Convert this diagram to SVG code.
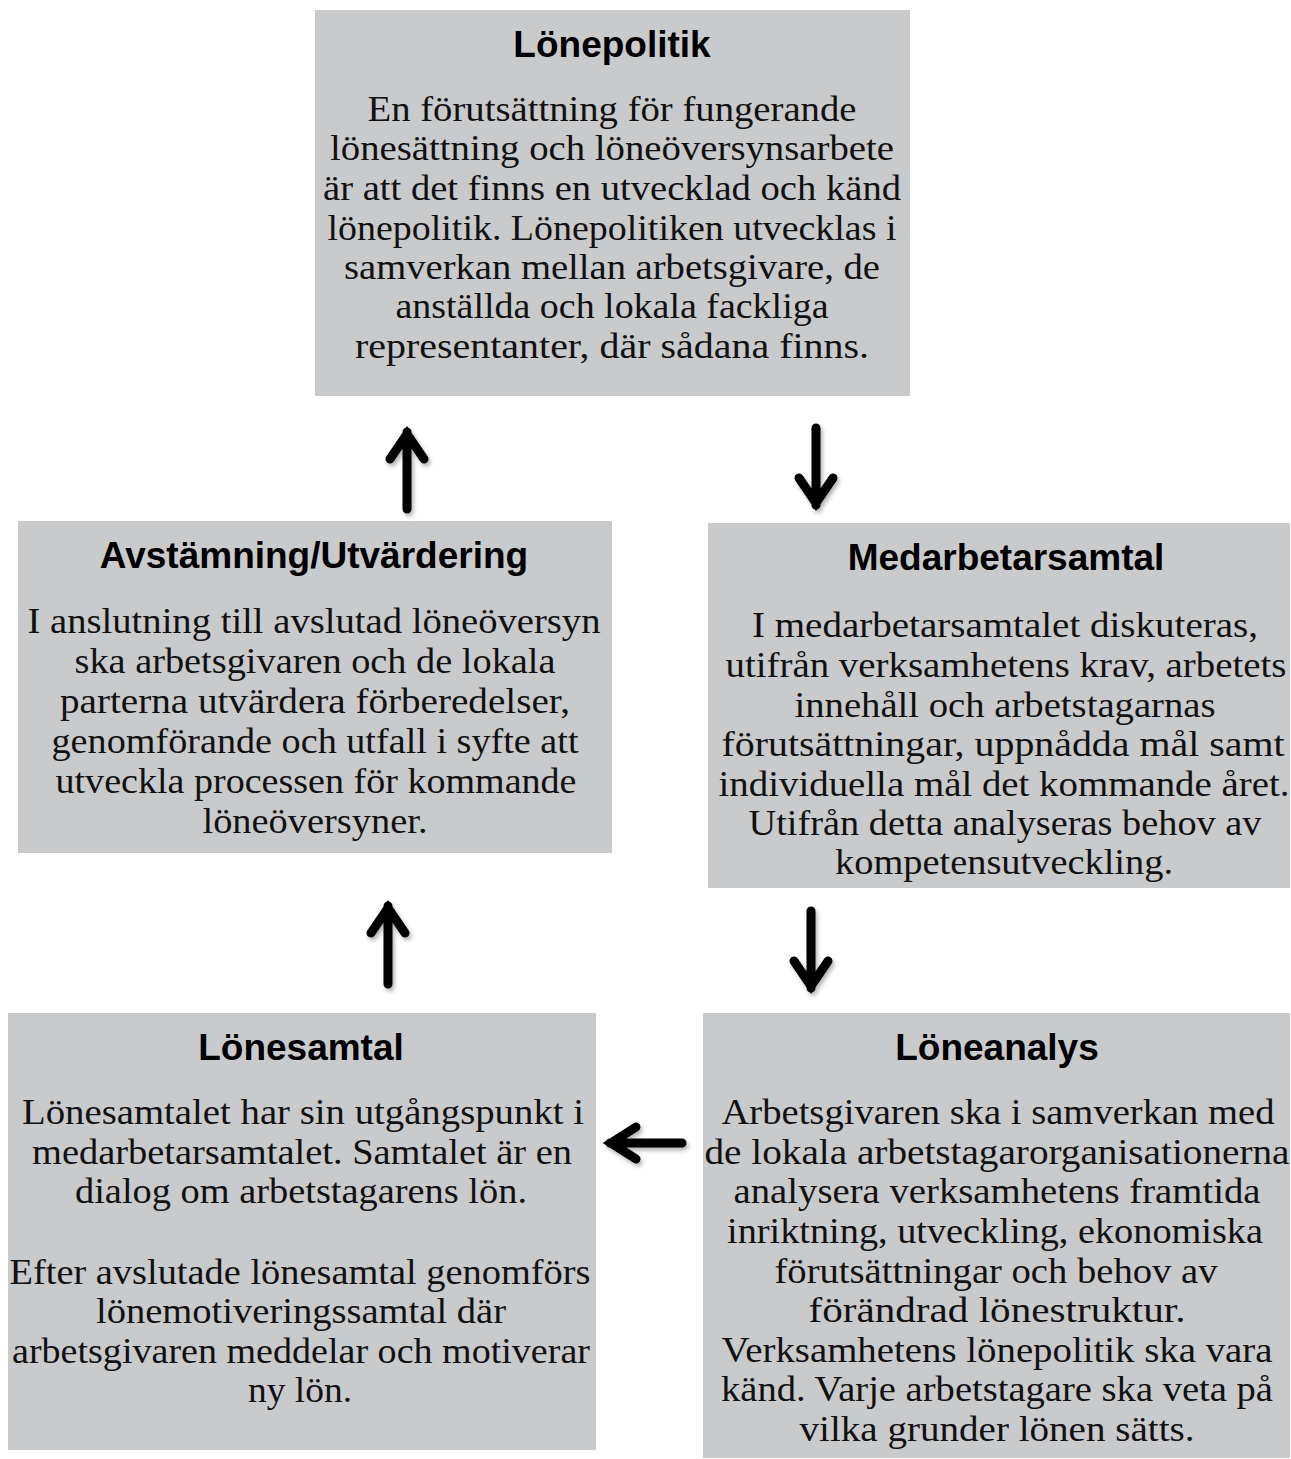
<svg xmlns="http://www.w3.org/2000/svg" width="1291" height="1459" viewBox="0 0 1291 1459">
<defs>
<style>
.box{fill:#c9cacc}
.t{font-family:"Liberation Sans",Arial,sans-serif;font-weight:bold;font-size:37px;fill:#000;text-anchor:middle}
.b{font-family:"Liberation Serif","Times New Roman",serif;font-size:35px;fill:#111;text-anchor:middle}
.arr{fill:none;stroke:#000;stroke-width:9;stroke-linecap:round;stroke-linejoin:miter;stroke-miterlimit:10}
</style>
<filter id="sh" x="-50%" y="-50%" width="200%" height="200%">
<feDropShadow dx="2" dy="3" stdDeviation="2" flood-color="#000" flood-opacity="0.3"/>
</filter>
</defs>
<rect width="1291" height="1459" fill="#fff"/>

<g id="lonepolitik">
<rect class="box" x="315" y="10" width="595" height="386"/>
<text class="t" x="612" y="57">Lönepolitik</text>
<text class="b" x="612" y="121" textLength="489" lengthAdjust="spacingAndGlyphs">En förutsättning för fungerande</text>
<text class="b" x="612" y="160" textLength="564" lengthAdjust="spacingAndGlyphs">lönesättning och löneöversynsarbete</text>
<text class="b" x="612" y="200" textLength="578" lengthAdjust="spacingAndGlyphs">är att det finns en utvecklad och känd</text>
<text class="b" x="612" y="240" textLength="569" lengthAdjust="spacingAndGlyphs">lönepolitik. Lönepolitiken utvecklas i</text>
<text class="b" x="612" y="279" textLength="536" lengthAdjust="spacingAndGlyphs">samverkan mellan arbetsgivare, de</text>
<text class="b" x="612" y="318" textLength="433" lengthAdjust="spacingAndGlyphs">anställda och lokala fackliga</text>
<text class="b" x="612" y="358" textLength="514" lengthAdjust="spacingAndGlyphs">representanter, där sådana finns.</text>
</g>

<g id="avstamning">
<rect class="box" x="18" y="521" width="594" height="332"/>
<text class="t" x="314" y="568">Avstämning/Utvärdering</text>
<text class="b" x="314" y="633" textLength="573" lengthAdjust="spacingAndGlyphs">I anslutning till avslutad löneöversyn</text>
<text class="b" x="315" y="673" textLength="481" lengthAdjust="spacingAndGlyphs">ska arbetsgivaren och de lokala</text>
<text class="b" x="315" y="713" textLength="510" lengthAdjust="spacingAndGlyphs">parterna utvärdera förberedelser,</text>
<text class="b" x="315" y="753" textLength="527" lengthAdjust="spacingAndGlyphs">genomförande och utfall i syfte att</text>
<text class="b" x="316" y="793" textLength="521" lengthAdjust="spacingAndGlyphs">utveckla processen för kommande</text>
<text class="b" x="315" y="833" textLength="225" lengthAdjust="spacingAndGlyphs">löneöversyner.</text>
</g>

<g id="medarbetarsamtal">
<rect class="box" x="708" y="523" width="582" height="365"/>
<text class="t" x="1006" y="570">Medarbetarsamtal</text>
<text class="b" x="1005" y="637" textLength="506" lengthAdjust="spacingAndGlyphs">I medarbetarsamtalet diskuteras,</text>
<text class="b" x="1006" y="677" textLength="561" lengthAdjust="spacingAndGlyphs">utifrån verksamhetens krav, arbetets</text>
<text class="b" x="1005" y="717" textLength="421" lengthAdjust="spacingAndGlyphs">innehåll och arbetstagarnas</text>
<text class="b" x="1003" y="756" textLength="563" lengthAdjust="spacingAndGlyphs">förutsättningar, uppnådda mål samt</text>
<text class="b" x="1004" y="796" textLength="571" lengthAdjust="spacingAndGlyphs">individuella mål det kommande året.</text>
<text class="b" x="1005" y="835" textLength="513" lengthAdjust="spacingAndGlyphs">Utifrån detta analyseras behov av</text>
<text class="b" x="1004" y="874" textLength="338" lengthAdjust="spacingAndGlyphs">kompetensutveckling.</text>
</g>

<g id="lonesamtal">
<rect class="box" x="8" y="1013" width="588" height="437"/>
<text class="t" x="301" y="1060">Lönesamtal</text>
<text class="b" x="303" y="1124" textLength="562" lengthAdjust="spacingAndGlyphs">Lönesamtalet har sin utgångspunkt i</text>
<text class="b" x="302" y="1164" textLength="540" lengthAdjust="spacingAndGlyphs">medarbetarsamtalet. Samtalet är en</text>
<text class="b" x="301" y="1203" textLength="452" lengthAdjust="spacingAndGlyphs">dialog om arbetstagarens lön.</text>
<text class="b" x="300" y="1284" textLength="581" lengthAdjust="spacingAndGlyphs">Efter avslutade lönesamtal genomförs</text>
<text class="b" x="301" y="1323" textLength="410" lengthAdjust="spacingAndGlyphs">lönemotiveringssamtal där</text>
<text class="b" x="301" y="1363" textLength="578" lengthAdjust="spacingAndGlyphs">arbetsgivaren meddelar och motiverar</text>
<text class="b" x="300" y="1402" textLength="104" lengthAdjust="spacingAndGlyphs">ny lön.</text>
</g>

<g id="loneanalys">
<rect class="box" x="703" y="1013" width="587" height="445"/>
<text class="t" x="997" y="1060">Löneanalys</text>
<text class="b" x="998" y="1124" textLength="553" lengthAdjust="spacingAndGlyphs">Arbetsgivaren ska i samverkan med</text>
<text class="b" x="997" y="1164" textLength="585" lengthAdjust="spacingAndGlyphs">de lokala arbetstagarorganisationerna</text>
<text class="b" x="997" y="1203" textLength="527" lengthAdjust="spacingAndGlyphs">analysera verksamhetens framtida</text>
<text class="b" x="995" y="1243" textLength="536" lengthAdjust="spacingAndGlyphs">inriktning, utveckling, ekonomiska</text>
<text class="b" x="996" y="1283" textLength="443" lengthAdjust="spacingAndGlyphs">förutsättningar och behov av</text>
<text class="b" x="997" y="1322" textLength="377" lengthAdjust="spacingAndGlyphs">förändrad lönestruktur.</text>
<text class="b" x="997" y="1362" textLength="551" lengthAdjust="spacingAndGlyphs">Verksamhetens lönepolitik ska vara</text>
<text class="b" x="997" y="1401" textLength="552" lengthAdjust="spacingAndGlyphs">känd. Varje arbetstagare ska veta på</text>
<text class="b" x="997" y="1441" textLength="395" lengthAdjust="spacingAndGlyphs">vilka grunder lönen sätts.</text>
</g>

<g id="connectors" filter="url(#sh)">
<path class="arr" d="M407,509 V432 M390,459 L407,434 L424,459"/>
<path class="arr" d="M816,428 V505 M799,478 L816,503 L833,478"/>
<path class="arr" d="M388,984 V906 M371,933 L388,908 L405,933"/>
<path class="arr" d="M811,911 V988 M794,961 L811,986 L828,961"/>
<path class="arr" d="M682,1143 H610 M636,1127 L611,1143 L636,1159"/>
</g>
</svg>
